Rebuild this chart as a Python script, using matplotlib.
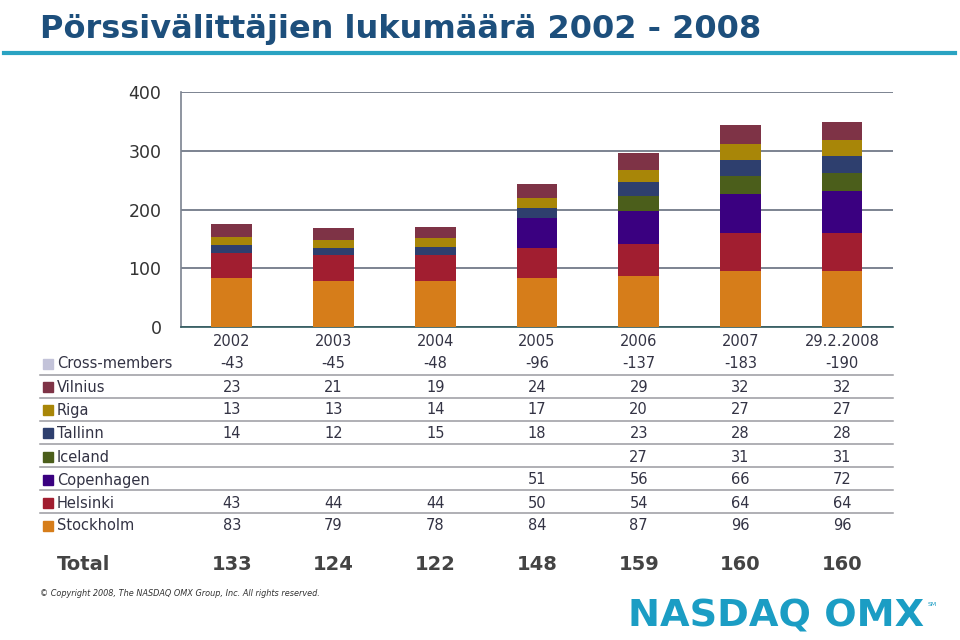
import numpy as np
import matplotlib
matplotlib.use("Agg")
import matplotlib.pyplot as plt
from matplotlib.transforms import blended_transform_factory
from matplotlib.patches import Rectangle
from matplotlib.lines import Line2D

years = ["2002", "2003", "2004", "2005", "2006", "2007", "29.2.2008"]
cross_members = [-43, -45, -48, -96, -137, -183, -190]
vilnius = [23, 21, 19, 24, 29, 32, 32]
riga = [13, 13, 14, 17, 20, 27, 27]
tallinn = [14, 12, 15, 18, 23, 28, 28]
iceland = [None, None, None, None, 27, 31, 31]
copenhagen = [None, None, None, 51, 56, 66, 72]
helsinki = [43, 44, 44, 50, 54, 64, 64]
stockholm = [83, 79, 78, 84, 87, 96, 96]
totals = [133, 124, 122, 148, 159, 160, 160]

# table rows (top to bottom) and colours
rows = [
    ("Cross-members", cross_members, "#C3C3D9"),
    ("Vilnius", vilnius, "#7E3346"),
    ("Riga", riga, "#A88608"),
    ("Tallinn", tallinn, "#2E3F6E"),
    ("Iceland", iceland, "#4B5E1B"),
    ("Copenhagen", copenhagen, "#3A0080"),
    ("Helsinki", helsinki, "#A11E30"),
    ("Stockholm", stockholm, "#D67D1A"),
]
stack_order = ["Stockholm", "Helsinki", "Copenhagen", "Iceland", "Tallinn", "Riga", "Vilnius"]

fig = plt.figure(figsize=(9.6, 6.4), dpi=100)
ax = fig.add_axes([0.1885, 0.489, 0.7417, 0.367])

x = np.arange(len(years))
bottom = np.zeros(len(years))
lookup = {name: (vals, col) for name, vals, col in rows}
for name in stack_order:
    vals, col = lookup[name]
    v = np.array([0 if a is None else a for a in vals], dtype=float)
    ax.bar(x, v, width=0.4, bottom=bottom, color=col, zorder=3)
    bottom += v

ax.set_xlim(-0.5, len(years) - 0.5)
ax.set_ylim(0, 400)
ax.set_yticks([0, 100, 200, 300, 400])
ax.yaxis.grid(True, color="#7C8390", linewidth=1.4, zorder=0)
ax.set_axisbelow(True)
for s in ["top", "right"]:
    ax.spines[s].set_visible(False)
ax.spines["left"].set_color("#7C8390")
ax.spines["left"].set_linewidth(1.2)
ax.spines["bottom"].set_color("#2F5A5E")
ax.spines["bottom"].set_linewidth(1.2)
ax.tick_params(axis="y", length=0, pad=14, labelsize=12.5, labelcolor="#333333")
ax.tick_params(axis="x", length=0, pad=5, labelsize=10.5, labelcolor="#333344")
ax.set_xticks(x)
ax.set_xticklabels(years)

# Title
fig.text(0.042, 0.978, "Pörssivälittäjien lukumäärä 2002 - 2008",
         family=["DejaVu Sans"], fontsize=23, fontweight="bold",
         color="#1D4F7C", va="top", ha="left")
fig.add_artist(Line2D([0.004, 0.995], [0.9175, 0.9175], transform=fig.transFigure,
                      color="#2AA3C2", linewidth=3))

# table
tr = blended_transform_factory(ax.transData, fig.transFigure)
row_y = [364, 387, 410, 433, 457, 480, 503, 526]
for (name, vals, col), yp in zip(rows, row_y):
    yf = 1 - yp / 640
    fig.add_artist(Rectangle((43 / 960, yf - 5 / 640), 10 / 960, 10 / 640,
                             transform=fig.transFigure, color=col))
    fig.text(57 / 960, yf, name, fontsize=10.5, color="#333344", va="center", ha="left")
    for xi, v in zip(x, vals):
        if v is not None:
            fig.text(xi, yf, str(v), transform=tr, fontsize=10.5, color="#333344",
                     va="center", ha="center")
for yp in [375, 398, 421, 444, 467, 490, 513]:
    yf = 1 - yp / 640
    fig.add_artist(Line2D([40 / 960, 893 / 960], [yf, yf], transform=fig.transFigure,
                          color="#9A9AA0", linewidth=1.1))

# Total row
yt = 1 - 565 / 640
fig.text(57 / 960, yt, "Total", fontsize=14, fontweight="bold", color="#444444",
         va="center", ha="left")
for xi, t in zip(x, totals):
    fig.text(xi, yt, str(t), transform=tr, fontsize=14, fontweight="bold", color="#444444",
             va="center", ha="center")

fig.text(40 / 960, 1 - 593 / 640, "© Copyright 2008, The NASDAQ OMX Group, Inc. All rights reserved.",
         fontsize=5.9, style="italic", color="#333333", va="center", ha="left")

fig.text(628 / 960, 1 - 617 / 640, "NASDAQ OMX", fontsize=27.5, fontweight="heavy",
         color="#1B9DC4", va="center", ha="left", family=["DejaVu Sans"])
fig.text(928 / 960, 1 - 605 / 640, "SM", fontsize=4.5, color="#1B9DC4", va="center", ha="left")

fig.savefig("out.png", dpi=100)
